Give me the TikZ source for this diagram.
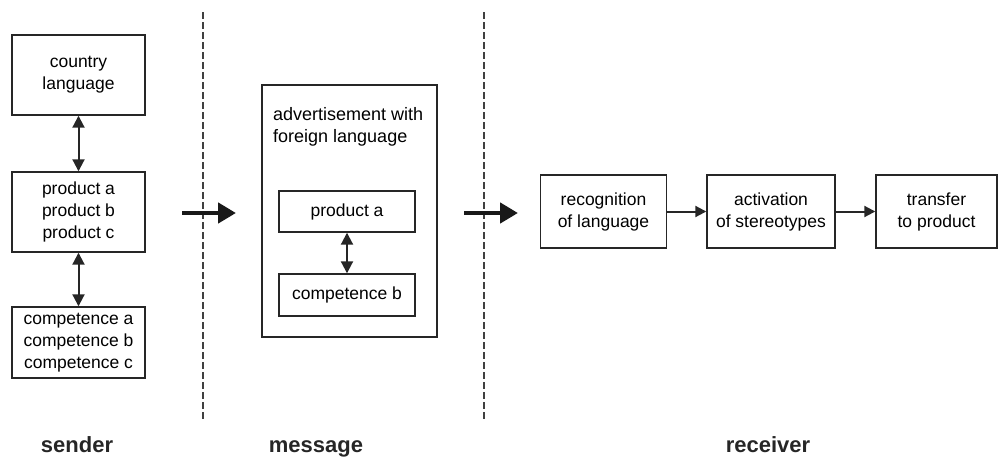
\documentclass[tikz,border=0pt]{standalone}
\usepackage{fontspec}
\setmainfont{Liberation Sans}
\usetikzlibrary{arrows.meta}
\begin{document}
\begin{tikzpicture}[x=1pt,y=-1pt,
  box/.style={draw=black!85,line width=1.4pt,align=center,inner sep=0pt,
    font=\fontsize{17.5}{22}\selectfont},
  dbl/.style={{Triangle[length=12pt,width=12pt]}-{Triangle[length=12pt,width=12pt]},line width=2pt,black!85},
  big/.style={-{Triangle[length=18pt,width=20pt]},line width=4.5pt,black!90},
  small/.style={-{Triangle[length=11pt,width=11pt]},line width=2pt,black!85},
  sep/.style={draw=black!75,line width=1.2pt,dash pattern=on 7pt off 3pt},
  lab/.style={font=\fontsize{22}{26}\selectfont\bfseries,text=black!85,anchor=base}]
\useasboundingbox (0,0) rectangle (999,466);
% sender
\node[box,minimum width=133pt,minimum height=80pt] (cl) at (78.5,75) {country\\language};
\node[box,minimum width=133pt,minimum height=80pt] (pr) at (78.5,212) {product a\\product b\\product c};
\node[box,minimum width=133pt,minimum height=71pt] (co) at (78.5,342.5) {competence a\\competence b\\competence c};
\draw[dbl] (cl) -- (pr);
\draw[dbl] (pr) -- (co);
% separators
\coordinate (s1t) at (203,12); \coordinate (s1b) at (203,422);
\coordinate (s2t) at (484,12); \coordinate (s2b) at (484,422);
\draw[sep] (s1t) -- (s1b);
\draw[sep] (s2t) -- (s2b);
% message
\node[draw=black!85,line width=1.4pt,minimum width=175pt,minimum height=252pt,inner sep=0pt] (ad) at (349.5,211) {};
\node[anchor=north west,align=left,inner sep=0pt,font=\fontsize{18}{22}\selectfont] (adt) at (273,107) {advertisement with\\foreign language};
\node[box,minimum width=136pt,minimum height=41pt] (pa) at (347,211.5) {product a};
\node[box,minimum width=136pt,minimum height=42pt] (cb) at (347,295) {competence b};
\draw[dbl] (pa) -- (cb);
% big arrows
\coordinate (a1s) at (182,213); \coordinate (a1e) at (236,213);
\coordinate (a2s) at (464,213); \coordinate (a2e) at (518,213);
\draw[big] (a1s) -- (a1e);
\draw[big] (a2s) -- (a2e);
% receiver
\node[box,minimum width=126pt,minimum height=73pt] (rl) at (603.5,211.5) {recognition\\of language};
\node[box,minimum width=128pt,minimum height=73pt] (as) at (771,211.5) {activation\\of stereotypes};
\node[box,minimum width=121pt,minimum height=73pt] (tp) at (936.5,211.5) {transfer\\to product};
\draw[small] (rl) -- (as);
\draw[small] (as) -- (tp);
% labels
\node[lab] (l1) at (77,452) {sender};
\node[lab] (l2) at (316,452) {message};
\node[lab] (l3) at (768,452) {receiver};
\end{tikzpicture}
\end{document}
